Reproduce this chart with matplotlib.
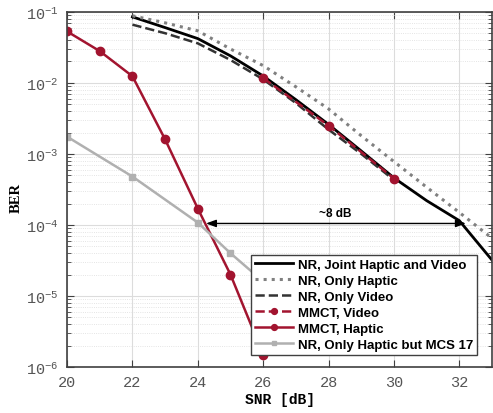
import numpy as np
import matplotlib
matplotlib.use('Agg')
import matplotlib.pyplot as plt

plt.rcParams['mathtext.fontset'] = 'custom'
plt.rcParams['mathtext.rm'] = 'Liberation Mono'
plt.rcParams['mathtext.it'] = 'Liberation Mono'
plt.rcParams['mathtext.bf'] = 'Liberation Mono:bold'
plt.rcParams['mathtext.default'] = 'rm'

# Data
snr_nr = [22, 23, 24, 25, 26, 27, 28, 29, 30, 31, 32, 33]
ber_joint = [0.085, 0.06, 0.042, 0.024, 0.0125, 0.0058, 0.0026, 0.0011, 4.6e-4, 2.2e-4, 1.15e-4, 3.2e-5]
ber_only_haptic = [0.088, 0.07, 0.054, 0.03, 0.0175, 0.0088, 0.0043, 0.0018, 7.8e-4, 3.4e-4, 1.5e-4, 6.5e-5]

snr_video = [22, 23, 24, 25, 26, 27, 28, 29, 30]
ber_only_video = [0.066, 0.05, 0.036, 0.021, 0.0112, 0.0052, 0.0022, 0.001, 4.3e-4]

snr_mmct_video = [26, 28, 30]
ber_mmct_video = [0.0117, 0.0025, 4.5e-4]

snr_mmct_haptic = [20, 21, 22, 23, 24, 25, 26]
ber_mmct_haptic = [0.053, 0.028, 0.0124, 0.0016, 1.7e-4, 2.0e-5, 1.5e-6]

snr_mcs17 = [20, 22, 24, 25, 26]
ber_mcs17 = [1.75e-3, 4.8e-4, 1.08e-4, 4.0e-5, 1.6e-5]

red = '#A2142F'

fig = plt.figure(figsize=(4.93, 4.14), dpi=100)
ax = fig.add_axes([0.136, 0.111, 0.862, 0.858])

ax.semilogy(snr_nr, ber_joint, '-', color='black', lw=2, label='NR, Joint Haptic and Video')
ax.semilogy(snr_nr, ber_only_haptic, ':', color='#808080', lw=2.2, label='NR, Only Haptic')
ax.semilogy(snr_video, ber_only_video, '--', color='#333333', lw=1.8, label='NR, Only Video')
ax.semilogy(snr_mmct_video, ber_mmct_video, '--', color=red, lw=1.8, marker='o', ms=6,
            label='MMCT, Video')
ax.semilogy(snr_mmct_haptic, ber_mmct_haptic, '-', color=red, lw=1.8, marker='o', ms=6,
            label='MMCT, Haptic')
ax.semilogy(snr_mcs17, ber_mcs17, '-', color='#b0b0b0', lw=1.8, marker='s', ms=5,
            label='NR, Only Haptic but MCS 17')

# ~8 dB gap annotation
ax.annotate('', xy=(24.25, 1.05e-4), xytext=(32.2, 1.05e-4),
            arrowprops=dict(arrowstyle='<|-|>, head_length=0.6, head_width=0.22',
                            color='black', lw=1, shrinkA=0, shrinkB=0))
ax.text(28.2, 1.2e-4, '~8 dB', ha='center', va='bottom', fontsize=8.5, fontweight='bold',
        family='Liberation Sans')

ax.set_xlim(20, 33)
ax.set_ylim(1e-6, 1e-1)
ax.set_xticks(np.arange(20, 33, 2))
ax.grid(True, which='major', color='#dcdcdc', lw=0.8)
ax.grid(True, which='minor', color='#dcdcdc', lw=0.6, ls=':')
ax.set_axisbelow(True)

ax.tick_params(which='both', direction='in', top=True, right=True, colors='#404040',
               labelcolor='#555555')
ax.tick_params(which='major', length=5, pad=6)
ax.tick_params(which='minor', length=3)
for lbl in ax.get_xticklabels() + ax.get_yticklabels():
    lbl.set_family('Liberation Mono')
    lbl.set_fontsize(11)
for s in ax.spines.values():
    s.set_color('#404040')
    s.set_linewidth(1.2)

ax.set_xlabel('SNR [dB]', family='Liberation Mono', fontweight='bold', fontsize=10.5,
              labelpad=2)
ax.set_ylabel('BER', family='Liberation Serif', fontweight='bold', fontsize=10.5)
ax.yaxis.set_label_coords(-0.105, 0.48)

leg = ax.legend(loc='lower right', bbox_to_anchor=(0.965, 0.035), fancybox=False,
                framealpha=1, edgecolor='#404040', handlelength=2.9, handletextpad=0.35,
                labelspacing=0.28, borderpad=0.3, borderaxespad=0,
                prop={'family': 'Liberation Sans', 'weight': 'bold', 'size': 9.5},
                markerscale=0.7)
leg.get_frame().set_linewidth(1)

fig.savefig('out.png', dpi=100)
